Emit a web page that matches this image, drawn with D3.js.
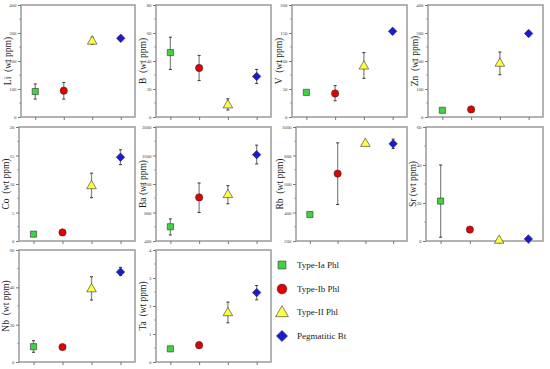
<!DOCTYPE html>
<html><head><meta charset="utf-8">
<script src="https://cdn.jsdelivr.net/npm/d3@7"></script>
<style>body{margin:0;background:#fff}svg{display:block}</style>
</head><body>
<script>
const groups = ["Type-Ia Phl","Type-Ib Phl","Type-II Phl","Pegmatitic Bt"];
const elements = ["Li","B","V","Zn","Co","Ba","Rb","Sr","Nb","Ta"];
const yLabels = ["Li  (wt ppm)","B  (wt ppm)","V  (wt ppm)","Zn  (wt ppm)","Co  (wt ppm)","Ba (wt ppm)","Rb  (wt ppm)","Sr (wt ppm)","Nb  (wt ppm)","Ta  (wt ppm)"];
const yDomains = [[0,400],[0,80],[0,200],[0,400],[0,20],[400,2000],[200,1000],[0,60],[0,60],[0,4]];
const yTicks = [[0,100,200,300,400],[0,20,40,60,80],[0,50,100,150,200],[0,100,200,300,400],[0,5,10,15,20],[400,800,1200,1600,2000],[200,400,600,800,1000],[0,20,40,60],[0,20,40,60],[0,1,2,3,4]];
// mean values per element for [Ia, Ib, II, Peg]
const means = [
  [91,94,273,281],
  [46,35,9,29],
  [44,42,92,153],
  [24,27,194,298],
  [1.2,1.5,9.8,14.7],
  [600,1012,1059,1612],
  [386,673,889,882],
  [21,6,0.7,1.1],
  [8.2,8.0,39.5,48.2],
  [0.47,0.6,1.78,2.48]
];
const lows = [
  [64,64,260,272],
  [34,26,5,24],
  [42,29,69,148],
  [19,21,151,289],
  [0.9,1.1,7.6,13.4],
  [485,800,922,1482],
  [378,456,878,849],
  [2,5,0.2,0.5],
  [5.2,7.2,33.2,46.4],
  [0.42,0.49,1.40,2.22]
];
const highs = [
  [118,123,285,290],
  [57,44,13,34],
  [47,56,115,157],
  [30,34,232,307],
  [1.5,1.8,11.9,16.0],
  [710,1214,1176,1745],
  [394,889,900,915],
  [40,7,1.6,1.8],
  [11.4,8.9,45.7,50.7],
  [0.52,0.71,2.14,2.73]
];
const colors = ["#3fd33f","#e30000","#ffff40","#1a1ad6"];
const shapes = [d3.symbolSquare,d3.symbolCircle,d3.symbolTriangle,d3.symbolDiamond2];
const sizes = [38,42,40,46];

const W=550,H=369;
const svg=d3.select("body").append("svg").attr("width",W).attr("height",H);
const colX=[[21,135],[156,271],[292,407],[428,543]];
const rowY=[[5,117],[127,241],[250,362]];
const font="'Liberation Serif','Times New Roman',serif";

elements.forEach((el,i)=>{
  const r=Math.floor(i/4), c=i%4;
  let x0=colX[c][0], x1=colX[c][1];
  if(r>0 && c===0) x0=19;
  if(i===6) x0=296;
  if(i===7) x0=426;
  const y0=rowY[r][0], y1=rowY[r][1];
  const x=d3.scalePoint().domain(groups).range([x0,x1]).padding(0.5);
  const y=d3.scaleLinear().domain(yDomains[i]).range([y1,y0]);
  const g=svg.append("g");
  g.append("rect").attr("x",x0).attr("y",y0).attr("width",x1-x0).attr("height",y1-y0)
    .attr("fill","none").attr("stroke","#9a9a9a").attr("stroke-width",1.5);
  const ya=g.append("g").attr("transform",`translate(${x0},0)`)
    .call(d3.axisLeft(y).tickValues(yTicks[i]).tickSize(3).tickPadding(1.5).tickFormat(d3.format("d")));
  ya.select(".domain").remove();
  ya.selectAll("line").attr("stroke","#777");
  ya.selectAll("text").attr("font-family",font).attr("font-size",4.8).attr("fill","#444");
  const tv=yTicks[i];
  for(let k=0;k<tv.length-1;k++){
    const m=(tv[k]+tv[k+1])/2;
    g.append("line").attr("x1",x0-1.8).attr("x2",x0).attr("y1",y(m)).attr("y2",y(m)).attr("stroke","#888").attr("stroke-width",0.8);
  }
  const xa=g.append("g").attr("transform",`translate(0,${y1})`)
    .call(d3.axisBottom(x).tickSize(3).tickFormat(""));
  xa.select(".domain").remove();
  xa.selectAll("line").attr("stroke","#777");
  g.append("text").attr("transform",`translate(${x0-(i===6?13:10.5)},${(y0+y1)/2}) rotate(-90)`)
    .attr("text-anchor","middle").attr("font-family",font).attr("font-size",9.5).attr("fill","#222")
    .attr("xml:space","preserve").text(yLabels[i]);
  groups.forEach((gr,j)=>{
    const cx=x(gr);
    g.append("line").attr("x1",cx).attr("x2",cx).attr("y1",y(lows[i][j])).attr("y2",y(highs[i][j]))
      .attr("stroke","#8a8a8a").attr("stroke-width",1.3);
    [lows[i][j],highs[i][j]].forEach(v=>{
      g.append("line").attr("x1",cx-1.5).attr("x2",cx+1.5).attr("y1",y(v)).attr("y2",y(v))
        .attr("stroke","#333").attr("stroke-width",1);
    });
  });
  groups.forEach((gr,j)=>{
    g.append("path").attr("d",d3.symbol().type(shapes[j]).size(sizes[j])())
      .attr("transform",`translate(${x(gr)},${y(means[i][j]) + (j===2?0.8:0)})`)
      .attr("fill",colors[j]).attr("stroke","#333").attr("stroke-width",0.6);
  });
});

const lg=svg.append("g");
const legY=[265,289,312,336];
const legSizes=[62,75,70,80];
groups.forEach((gr,j)=>{
  lg.append("path").attr("d",d3.symbol().type(shapes[j]).size(legSizes[j])())
    .attr("transform",`translate(282,${legY[j]+(j===2?1:0)})`)
    .attr("fill",colors[j]).attr("stroke","#333").attr("stroke-width",0.6);
  lg.append("text").attr("x",297).attr("y",legY[j]+3).attr("font-family",font)
    .attr("font-size",9).attr("fill","#222").text(gr);
});
</script>
</body></html>
